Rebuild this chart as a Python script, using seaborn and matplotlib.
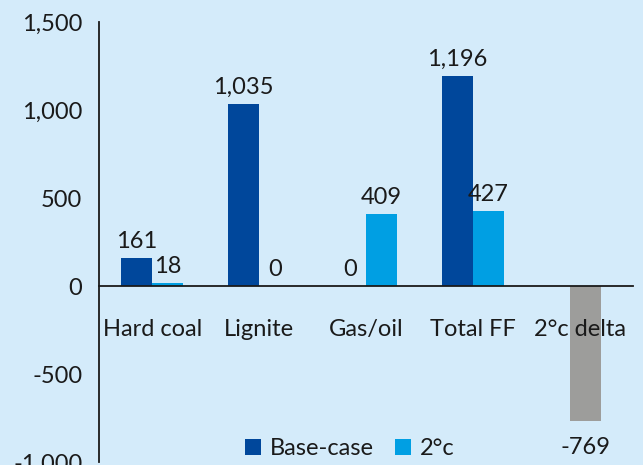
import numpy as np
import pandas as pd
import matplotlib
matplotlib.use('Agg')
import matplotlib.pyplot as plt
import seaborn as sns

categories = ["Hard coal", "Lignite", "Gas/oil", "Total FF", "2°c delta"]
base_case = [161, 1035, 0, 1196, np.nan]
two_deg = [18, 0, 409, 427, np.nan]
delta = [np.nan, np.nan, np.nan, np.nan, -769]
series_names = ["Base-case", "2°c"]
yticks = [-1000, -500, 0, 500, 1000, 1500]

bg = '#d4ebfa'
c_base = '#00479b'
c_2deg = '#009fe3'
c_delta = '#9d9d9b'
ink = '#1a1a1a'

sns.set_style('white')
plt.rcParams['font.family'] = ['Lato', 'DejaVu Sans']
plt.rcParams['font.size'] = 17
plt.rcParams['text.color'] = ink

df = pd.DataFrame({
    'cat': categories * 2,
    'series': [series_names[0]] * 5 + [series_names[1]] * 5,
    'value': base_case + two_deg,
}).dropna()
df_delta = pd.DataFrame({'cat': categories, 'value': delta}).dropna()

fig = plt.figure(figsize=(6.43, 4.65), dpi=100, facecolor=bg)
ax = fig.add_axes([0.154, 0.00645, 0.8304, 0.9462])
ax.set_facecolor(bg)

sns.barplot(data=df, x='cat', y='value', hue='series', order=categories,
            hue_order=series_names, palette=[c_base, c_2deg], width=0.58,
            saturation=1, linewidth=0, ax=ax)
sns.barplot(data=df_delta, x='cat', y='value', order=categories, color=c_delta,
            width=0.29, saturation=1, linewidth=0, ax=ax)

# delta bar sits slightly right of centre in the original
for p in ax.containers[2]:
    p.set_x(p.get_x() + 0.055)

for cont in ax.containers[:2]:
    ax.bar_label(cont, fmt='{:,.0f}', padding=4, fontsize=17, color=ink)
ax.bar_label(ax.containers[2], fmt='{:,.0f}', padding=11, fontsize=17, color=ink)

ax.set_axisbelow(False)
ax.set_ylim(-1000, 1500)
ax.set_xlim(-0.5, 4.5)
ax.set_yticks(yticks)
ax.set_yticklabels([f'{v:,}' for v in yticks])
ax.set_xlabel('')
ax.set_ylabel('')

ax.spines['top'].set_visible(False)
ax.spines['right'].set_visible(False)
ax.spines['bottom'].set_position(('data', 0))
for s in ['left', 'bottom']:
    ax.spines[s].set_color(ink)
    ax.spines[s].set_linewidth(1.3)

ax.set_xticks(np.arange(len(categories)))
ax.set_xticklabels(categories)
ax.set_xticks(np.arange(len(categories) + 1) - 0.5, minor=True)
ax.tick_params(axis='x', which='major', length=0, pad=24, labelsize=17, colors=ink)
ax.tick_params(axis='x', which='minor', length=5, width=1.3, direction='out', color=ink)
ax.tick_params(axis='y', length=5, width=1.3, direction='out', pad=7, labelsize=17, colors=ink)

handles, labels = ax.get_legend_handles_labels()
ax.legend(handles[:2], series_names, loc='center', bbox_to_anchor=(0.47, 0.03),
          ncol=2, frameon=False, handlelength=0.65, handleheight=0.65,
          handletextpad=0.4, columnspacing=0.9, fontsize=17)

fig.savefig('out.png', dpi=100, facecolor=bg)
